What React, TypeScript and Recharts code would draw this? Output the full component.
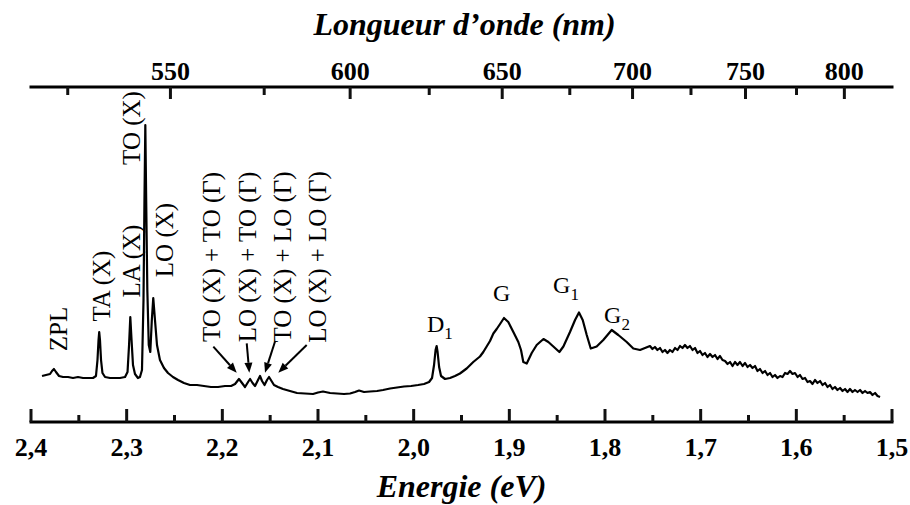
import { Line, LineChart, ReferenceDot, ReferenceLine, XAxis, YAxis } from "recharts";

// photon energy (eV) / PL intensity (arb. units)
// phonon replicas of the free exciton + flat region up to D1
const edgeEnergy = [
  2.3885, 2.3843, 2.3801, 2.378, 2.376, 2.3739, 2.3707, 2.3665, 2.3613, 2.3561,
  2.3509, 2.3456, 2.3404, 2.3352, 2.3321, 2.3305, 2.3294, 2.3287, 2.3279, 2.3268,
  2.3253, 2.3226, 2.3174, 2.3122, 2.307, 2.3017, 2.2991, 2.2975, 2.2962, 2.2949,
  2.2934, 2.2913, 2.2882, 2.2861, 2.284, 2.2824, 2.2814, 2.2805, 2.2796, 2.2784,
  2.2769, 2.2753, 2.2737, 2.2722, 2.2704, 2.2683, 2.2652, 2.261, 2.2568, 2.2516,
  2.2463, 2.2401, 2.2338, 2.2265, 2.2192, 2.2119, 2.2045, 2.1972, 2.1909, 2.1867,
  2.1826, 2.1794, 2.1763, 2.1731, 2.171, 2.1684, 2.1658, 2.1627, 2.1606, 2.1585,
  2.1559, 2.1533, 2.1512, 2.1486, 2.146, 2.1418, 2.1366, 2.1293, 2.1219, 2.1136,
  2.1052, 2.1, 2.0948, 2.0874, 2.0801, 2.0728, 2.0665, 2.0613, 2.0571, 2.0519,
  2.0456, 2.0383, 2.032, 2.0247, 2.0174, 2.0101, 2.0027, 1.9954, 1.9892, 1.9839,
];
const edgeIntensity = [
  0.46, 0.47, 0.48, 0.51, 0.53, 0.5, 0.46, 0.45, 0.45, 0.44,
  0.45, 0.44, 0.44, 0.44, 0.46, 0.62, 0.82, 0.9, 0.82, 0.62,
  0.49, 0.45, 0.44, 0.44, 0.44, 0.45, 0.5, 0.77, 1.05, 0.82,
  0.57, 0.48, 0.44, 0.45, 0.52, 1.22, 2.22, 2.97, 2.22, 1.32,
  0.77, 0.7, 1.02, 1.24, 1.02, 0.77, 0.62, 0.54, 0.49, 0.45,
  0.42, 0.39, 0.37, 0.37, 0.36, 0.35, 0.35, 0.36, 0.36, 0.38,
  0.43, 0.39, 0.35, 0.4, 0.43, 0.39, 0.36, 0.42, 0.46, 0.41,
  0.37, 0.42, 0.45, 0.41, 0.37, 0.35, 0.33, 0.31, 0.29, 0.285,
  0.28, 0.295, 0.305, 0.29, 0.285, 0.28, 0.285, 0.3, 0.315, 0.3,
  0.305, 0.31, 0.32, 0.335, 0.345, 0.355, 0.36, 0.37, 0.38, 0.4,
];

// D1 line and the G, G1, G2 bands
const bandEnergy = [
  1.9808, 1.9787, 1.9771, 1.976, 1.975, 1.9734, 1.9714, 1.9672, 1.962, 1.9568,
  1.9516, 1.9446, 1.9377, 1.9307, 1.9272, 1.9237, 1.9202, 1.9167, 1.9132, 1.9097,
  1.9056, 1.9011, 1.8958, 1.8906, 1.8878, 1.8854, 1.8818, 1.8766, 1.8714, 1.8679,
  1.8643, 1.8592, 1.854, 1.8477, 1.8435, 1.8366, 1.8313, 1.8272, 1.8233, 1.8191,
  1.8149, 1.8087, 1.8018, 1.793, 1.7861, 1.7773, 1.7704, 1.7634, 1.7582,
];
const bandIntensity = [
  0.44, 0.57, 0.72, 0.76, 0.7, 0.55, 0.46, 0.43, 0.44, 0.46,
  0.485, 0.535, 0.6, 0.655, 0.7, 0.755, 0.81, 0.885, 0.93, 0.98,
  1.04, 1.0, 0.9, 0.8, 0.72, 0.6, 0.585, 0.69, 0.77, 0.8,
  0.83, 0.8, 0.755, 0.7, 0.755, 0.9, 1.02, 1.095, 1.02, 0.87,
  0.735, 0.755, 0.82, 0.92, 0.87, 0.8, 0.735, 0.72, 0.74,
];

// noisy low-energy tail
const tailEnergy = [
  1.753, 1.7504, 1.7478, 1.7452, 1.7425, 1.7399, 1.7373, 1.7347, 1.7321, 1.7295,
  1.7268, 1.7242, 1.7216, 1.719, 1.7164, 1.7138, 1.7112, 1.7085, 1.7059, 1.7033,
  1.7007, 1.6981, 1.6955, 1.6929, 1.6902, 1.6876, 1.685, 1.6824, 1.6798, 1.6772,
  1.6745, 1.6719, 1.6693, 1.6667, 1.6641, 1.6615, 1.6589, 1.6562, 1.6536, 1.651,
  1.6484, 1.6458, 1.6432, 1.6406, 1.638, 1.6353, 1.6327, 1.6301, 1.6275, 1.6249,
  1.6223, 1.6197, 1.617, 1.6144, 1.6118, 1.6092, 1.6066, 1.604, 1.6014, 1.5987,
  1.5962, 1.5935, 1.5909, 1.5883, 1.5857, 1.5831, 1.5805, 1.5779, 1.5752, 1.5726,
  1.57, 1.5674, 1.5648, 1.5622, 1.5596, 1.557, 1.5543, 1.5517, 1.5491, 1.5465,
  1.5439, 1.5413, 1.5387, 1.536, 1.5334, 1.5308, 1.5282, 1.5256, 1.523, 1.5204,
  1.5177, 1.5151, 1.5125,
];
const tailIntensity = [
  0.76, 0.73, 0.75, 0.72, 0.74, 0.7, 0.72, 0.69, 0.72, 0.7,
  0.74, 0.72, 0.76, 0.74, 0.77, 0.74, 0.76, 0.72, 0.74, 0.69,
  0.71, 0.67, 0.69, 0.65, 0.68, 0.65, 0.67, 0.63, 0.66, 0.62,
  0.61, 0.58, 0.6, 0.56, 0.6, 0.57, 0.6, 0.56, 0.59, 0.55,
  0.57, 0.54, 0.56, 0.51, 0.53, 0.49, 0.51, 0.47, 0.49, 0.45,
  0.47, 0.44, 0.46, 0.45, 0.49, 0.48, 0.51, 0.48, 0.49, 0.45,
  0.47, 0.43, 0.44, 0.4, 0.41, 0.38, 0.42, 0.39, 0.41, 0.37,
  0.39, 0.35, 0.37, 0.33, 0.35, 0.32, 0.34, 0.31, 0.33, 0.3,
  0.33, 0.3, 0.32, 0.3, 0.32, 0.29, 0.31, 0.29, 0.3, 0.27,
  0.29, 0.26, 0.25,
];

const energyMajor = [2.4, 2.3, 2.2, 2.1, 2.0, 1.9, 1.8, 1.7, 1.6, 1.5];
const energyLabels = ["2,4", "2,3", "2,2", "2,1", "2,0", "1,9", "1,8", "1,7", "1,6", "1,5"];
const energyMinor = [2.35, 2.25, 2.15, 2.05, 1.95, 1.85, 1.75, 1.65, 1.55];

const wavelengthMajor = [550, 600, 650, 700, 750, 800];
const wavelengthMinor = [525, 575, 625, 675, 725, 775];

const HC = 1239.84; // eV·nm

const phononLabels = [
  { text: "ZPL", e: 2.3718, v: 0.93 },
  { text: "TA (X)", e: 2.3268, v: 1.36 },
  { text: "LA (X)", e: 2.2955, v: 1.61 },
  { text: "TO (X)", e: 2.2955, v: 2.94 },
  { text: "LO (X)", e: 2.261, v: 1.82 },
  { text: "TO (X) + TO (Γ)", e: 2.2111, v: 1.65 },
  { text: "LO (X) + TO (Γ)", e: 2.1742, v: 1.65 },
  { text: "TO (X) + LO (Γ)", e: 2.1371, v: 1.65 },
  { text: "LO (X) + LO (Γ)", e: 2.1005, v: 1.65 },
];

const bandLabels = [
  { name: "D", sub: "1", e: 1.9861, v: 0.9 },
  { name: "G", sub: "", e: 1.9171, v: 1.21 },
  { name: "G", sub: "1", e: 1.8543, v: 1.29 },
  { name: "G", sub: "2", e: 1.801, v: 0.99 },
];

const arrows = [
  { from: [2.2094, 0.753], to: [2.185, 0.493] },
  { from: [2.1745, 0.787], to: [2.1718, 0.493] },
  { from: [2.145, 0.803], to: [2.1554, 0.493] },
  { from: [2.1118, 0.77], to: [2.1415, 0.493] },
];

const energy = [...edgeEnergy, ...bandEnergy, ...tailEnergy];
const intensity = [...edgeIntensity, ...bandIntensity, ...tailIntensity];
const data = energy.map((e, i) => ({ e, i: intensity[i] }));

const Y_MAX = 3.35;
const INK = "#111";
const SERIF = '"Liberation Serif", "Times New Roman", "DejaVu Serif", serif';
const FRAME = { stroke: "#000", strokeWidth: 3, strokeLinecap: "square" as const };

// bottom axis (tickSize 0, tickMargin 0): p.y is the frame itself; tick drawn inward
const renderEnergyTick = (p: any) => {
  const idx = energyMajor.findIndex((t) => Math.abs(t - p.payload.value) < 1e-6);
  const len = idx >= 0 ? 13 : 7;
  return (
    <g>
      <path d={`M${p.x},${p.y}V${p.y - len}`} stroke={INK} strokeWidth={3} fill="none" />
      {idx >= 0 && (
        <text x={p.x} y={p.y + 34} textAnchor="middle" fontFamily={SERIF} fontWeight="bold" fontSize={26} fill="#000">
          {energyLabels[idx]}
        </text>
      )}
    </g>
  );
};

// top axis: p.y is the frame; tick drawn downward into the plot
const renderWavelengthTick = (p: any) => {
  const nm = Math.round(HC / p.payload.value);
  const major = wavelengthMajor.includes(nm);
  const len = major ? 12 : 8;
  return (
    <g>
      <path d={`M${p.x},${p.y}V${p.y + len}`} stroke={INK} strokeWidth={3} fill="none" />
      {major && (
        <text x={p.x} y={p.y - 7} textAnchor="middle" fontFamily={SERIF} fontWeight="bold" fontSize={26} fill="#000">
          {nm}
        </text>
      )}
    </g>
  );
};

const axisTitle = (text: string, dy: number, dx = 0) => (p: any) => {
  const vb = p.viewBox ?? { x: 31, y: 0, width: 861, height: 0 };
  return (
    <text
      x={vb.x + vb.width / 2 + dx}
      y={vb.y + dy}
      textAnchor="middle"
      fontFamily={SERIF}
      fontWeight="bold"
      fontStyle="italic"
      fontSize={32}
      fill="#000"
    >
      {text}
    </text>
  );
};

function Arrow(props: any) {
  const { x1, y1, x2, y2 } = props;
  const dx = x2 - x1;
  const dy = y2 - y1;
  const len = Math.hypot(dx, dy) || 1;
  const ux = dx / len;
  const uy = dy / len;
  const bx = x2 - ux * 10;
  const by = y2 - uy * 10;
  const h = 4;
  return (
    <g>
      <path d={`M${x1},${y1}L${bx},${by}`} stroke="#000" strokeWidth={2} fill="none" />
      <polygon
        points={`${x2},${y2} ${bx - uy * h},${by + ux * h} ${bx + uy * h},${by - ux * h}`}
        fill="#000"
      />
    </g>
  );
}

export default function App() {
  const wavelengthTicks = [...wavelengthMinor, ...wavelengthMajor].sort((a, b) => a - b).map((nm) => HC / nm);
  const energyTicks = [...energyMajor, ...energyMinor].sort((a, b) => b - a);

  return (
    <div style={{ position: "absolute", left: 0, top: 0, width: 910, height: 505, background: "#fff" }}>
      <LineChart width={910} height={505} data={data} margin={{ top: 0, right: 18, bottom: 0, left: 31 }}>
        <XAxis
          xAxisId="e"
          dataKey="e"
          type="number"
          domain={[1.5, 2.4]}
          reversed
          allowDataOverflow
          ticks={energyTicks}
          interval={0}
          tickSize={0}
          tickMargin={0}
          tickLine={false}
          tick={renderEnergyTick}
          axisLine={FRAME}
          height={83}
          label={{ content: axisTitle("Energie (eV)", 75) }}
        />
        <XAxis
          xAxisId="nm"
          orientation="top"
          dataKey="e"
          type="number"
          domain={[1.5, 2.4]}
          reversed
          allowDataOverflow
          ticks={wavelengthTicks}
          interval={0}
          tickSize={0}
          tickMargin={0}
          tickLine={false}
          tick={renderWavelengthTick}
          axisLine={FRAME}
          height={87}
          label={{ content: axisTitle("Longueur d’onde (nm)", 35, 3) }}
        />
        <YAxis
          yAxisId="i"
          type="number"
          domain={[0, Y_MAX]}
          allowDataOverflow
          width={0}
          tick={false}
          tickLine={false}
          axisLine={FRAME}
        />
        <YAxis
          yAxisId="r"
          orientation="right"
          type="number"
          domain={[0, Y_MAX]}
          allowDataOverflow
          width={0}
          tick={false}
          tickLine={false}
          axisLine={FRAME}
        />
        <Line
          xAxisId="e"
          yAxisId="i"
          dataKey="i"
          type="linear"
          stroke="#000"
          strokeWidth={2.2}
          strokeLinejoin="round"
          dot={false}
          activeDot={false}
          isAnimationActive={false}
        />
        {arrows.map((a, k) => (
          <ReferenceLine
            key={`arrow-${k}`}
            xAxisId="e"
            yAxisId="i"
            segment={[
              { x: a.from[0], y: a.from[1] },
              { x: a.to[0], y: a.to[1] },
            ]}
            shape={(p: any) => <Arrow {...p} />}
          />
        ))}
        {phononLabels.map((l) => (
          <ReferenceDot
            key={l.text}
            xAxisId="e"
            yAxisId="i"
            x={l.e}
            y={l.v}
            r={0}
            shape={(p: any) => (
              <text
                x={p.cx}
                y={p.cy}
                dy="0.35em"
                transform={`rotate(-90 ${p.cx} ${p.cy})`}
                textAnchor="middle"
                fontFamily={SERIF}
                fontSize={25}
                fill="#000"
              >
                {l.text}
              </text>
            )}
          />
        ))}
        {bandLabels.map((l) => (
          <ReferenceDot
            key={`${l.name}${l.sub}`}
            xAxisId="e"
            yAxisId="i"
            x={l.e}
            y={l.v}
            r={0}
            shape={(p: any) => (
              <text x={p.cx} y={p.cy} fontFamily={SERIF} fontSize={24} fill="#000">
                {l.name}
                {l.sub && (
                  <tspan fontSize={17} dy={7}>
                    {l.sub}
                  </tspan>
                )}
              </text>
            )}
          />
        ))}
      </LineChart>
    </div>
  );
}
